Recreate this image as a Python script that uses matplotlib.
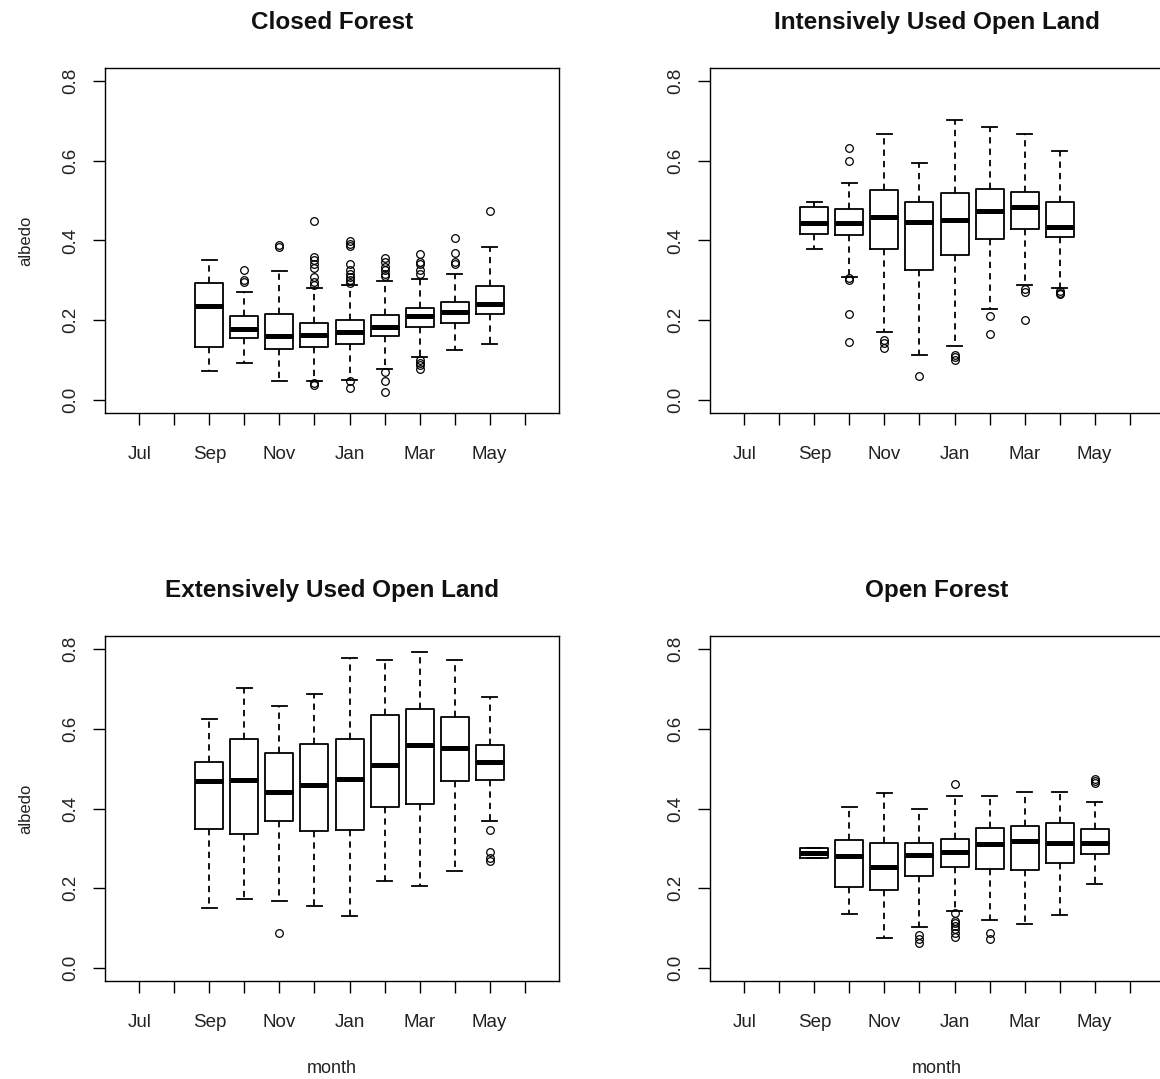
import matplotlib
matplotlib.use("Agg")
import matplotlib.pyplot as plt

plt.rcParams['font.family'] = ['Liberation Sans', 'DejaVu Sans']

# ---- axis definitions ----
month_positions = [1, 2, 3, 4, 5, 6, 7, 8, 9, 10, 11, 12]
month_labels = ["Jul", "", "Sep", "", "Nov", "", "Jan", "", "Mar", "", "May", ""]
y_ticks = [0.0, 0.2, 0.4, 0.6, 0.8]
y_tick_labels = ["0.0", "0.2", "0.4", "0.6", "0.8"]

# ---- Closed Forest (Sep..May) ----
cf_pos = [3, 4, 5, 6, 7, 8, 9, 10, 11]
cf_lo = [0.073, 0.092, 0.047, 0.047, 0.050, 0.077, 0.108, 0.125, 0.141]
cf_q1 = [0.133, 0.156, 0.129, 0.133, 0.141, 0.160, 0.183, 0.193, 0.217]
cf_med = [0.237, 0.179, 0.160, 0.164, 0.172, 0.183, 0.210, 0.221, 0.240]
cf_q3 = [0.293, 0.210, 0.217, 0.194, 0.202, 0.213, 0.232, 0.247, 0.285]
cf_hi = [0.350, 0.270, 0.323, 0.282, 0.288, 0.298, 0.304, 0.315, 0.383]
cf_out = [
    [],
    [0.327, 0.302, 0.295],
    [0.389, 0.383],
    [0.448, 0.358, 0.350, 0.341, 0.331, 0.308, 0.296, 0.288, 0.044, 0.038],
    [0.398, 0.391, 0.386, 0.342, 0.325, 0.317, 0.308, 0.300, 0.294, 0.047, 0.031],
    [0.357, 0.346, 0.333, 0.325, 0.317, 0.311, 0.071, 0.047, 0.021],
    [0.365, 0.345, 0.342, 0.325, 0.317, 0.100, 0.093, 0.087, 0.079],
    [0.407, 0.368, 0.345, 0.342],
    [0.474],
]

# ---- Intensively Used Open Land (Sep..Apr) ----
iu_pos = [3, 4, 5, 6, 7, 8, 9, 10]
iu_lo = [0.378, 0.309, 0.170, 0.113, 0.136, 0.228, 0.288, 0.280]
iu_q1 = [0.416, 0.413, 0.378, 0.325, 0.363, 0.405, 0.428, 0.409]
iu_med = [0.443, 0.443, 0.458, 0.446, 0.451, 0.473, 0.485, 0.435]
iu_q3 = [0.484, 0.478, 0.526, 0.496, 0.518, 0.529, 0.522, 0.496]
iu_hi = [0.496, 0.544, 0.666, 0.594, 0.703, 0.684, 0.666, 0.623]
iu_out = [
    [],
    [0.632, 0.598, 0.305, 0.301, 0.215, 0.147],
    [0.151, 0.143, 0.132],
    [0.060],
    [0.113, 0.107, 0.101],
    [0.211, 0.166],
    [0.278, 0.271, 0.200],
    [0.273, 0.269, 0.265],
]

# ---- Extensively Used Open Land (Sep..May) ----
eu_pos = [3, 4, 5, 6, 7, 8, 9, 10, 11]
eu_lo = [0.150, 0.173, 0.168, 0.157, 0.131, 0.218, 0.206, 0.244, 0.368]
eu_q1 = [0.349, 0.335, 0.368, 0.343, 0.346, 0.403, 0.411, 0.468, 0.471]
eu_med = [0.468, 0.471, 0.441, 0.460, 0.475, 0.509, 0.558, 0.551, 0.517]
eu_q3 = [0.517, 0.573, 0.539, 0.562, 0.573, 0.633, 0.648, 0.630, 0.558]
eu_hi = [0.623, 0.703, 0.656, 0.688, 0.778, 0.771, 0.793, 0.771, 0.679]
eu_out = [
    [], [], [0.089], [], [], [], [], [],
    [0.346, 0.290, 0.275, 0.268],
]

# ---- Open Forest (Sep..May) ----
of_pos = [3, 4, 5, 6, 7, 8, 9, 10, 11]
of_lo = [0.277, 0.137, 0.075, 0.102, 0.143, 0.120, 0.110, 0.133, 0.212]
of_q1 = [0.277, 0.204, 0.196, 0.231, 0.253, 0.249, 0.245, 0.264, 0.287]
of_med = [0.289, 0.281, 0.253, 0.283, 0.292, 0.310, 0.318, 0.314, 0.314]
of_q3 = [0.302, 0.322, 0.313, 0.313, 0.324, 0.352, 0.355, 0.363, 0.348]
of_hi = [0.302, 0.404, 0.439, 0.400, 0.431, 0.431, 0.442, 0.442, 0.416]
of_out = [
    [], [], [],
    [0.083, 0.073, 0.063],
    [0.462, 0.139, 0.118, 0.113, 0.106, 0.098, 0.089, 0.079],
    [0.089, 0.073],
    [], [],
    [0.474, 0.468, 0.463],
]

titles = ["Closed Forest", "Intensively Used Open Land",
          "Extensively Used Open Land", "Open Forest"]

W, H = 1160, 1079
fig = plt.figure(figsize=(W / 100, H / 100), dpi=100)


def make_stats(lo, q1, med, q3, hi, out):
    return [dict(whislo=a, q1=b, med=c, q3=d, whishi=e, fliers=f)
            for a, b, c, d, e, f in zip(lo, q1, med, q3, hi, out)]


def panel(left_px, top_px, title, pos, stats, ylab, xlab):
    w_px, h_px = 454, 345
    ax = fig.add_axes([left_px / W, (H - top_px - h_px) / H, w_px / W, h_px / H])
    ax.bxp(stats, positions=pos, widths=0.8, capwidths=0.42,
           manage_ticks=False, showfliers=True,
           boxprops=dict(color="black", linewidth=1.3),
           whiskerprops=dict(color="black", linewidth=1.3, linestyle=(0, (3.5, 2.8))),
           capprops=dict(color="black", linewidth=1.3),
           medianprops=dict(color="black", linewidth=3.6, solid_capstyle="butt"),
           flierprops=dict(marker="o", markerfacecolor="none",
                           markeredgecolor="black", markersize=5.5,
                           markeredgewidth=0.9, linestyle="none"))
    ax.set_xlim(0.02, 12.98)
    ax.set_ylim(-0.032, 0.832)
    ax.set_xticks(month_positions)
    ax.set_xticklabels(month_labels, fontsize=13.5, color="#222222")
    ax.set_yticks(y_ticks)
    ax.set_yticklabels(y_tick_labels, fontsize=13.5, rotation=90, va="center",
                       color="#222222")
    ax.tick_params(axis="both", direction="out", length=8.6, width=1.0, colors="black")
    ax.tick_params(axis="x", pad=15.5, labelcolor="#222222")
    ax.tick_params(axis="y", pad=10, labelcolor="#222222")
    for s in ax.spines.values():
        s.set_linewidth(1.0)
        s.set_color("black")
    ax.set_title(title, fontsize=17.5, fontweight="bold", pad=28, color="#111111")
    if ylab:
        ax.set_ylabel("albedo", fontsize=12, color="#222222")
        ax.yaxis.set_label_coords(-0.158, 0.5)
    if xlab:
        ax.set_xlabel("month", fontsize=13, color="#222222")
        ax.xaxis.set_label_coords(0.5, -0.23)
    return ax


panel(105, 68, titles[0], cf_pos, make_stats(cf_lo, cf_q1, cf_med, cf_q3, cf_hi, cf_out), True, False)
panel(710, 68, titles[1], iu_pos, make_stats(iu_lo, iu_q1, iu_med, iu_q3, iu_hi, iu_out), False, False)
panel(105, 636, titles[2], eu_pos, make_stats(eu_lo, eu_q1, eu_med, eu_q3, eu_hi, eu_out), True, True)
panel(710, 636, titles[3], of_pos, make_stats(of_lo, of_q1, of_med, of_q3, of_hi, of_out), False, True)

fig.savefig("out.png", dpi=100)
